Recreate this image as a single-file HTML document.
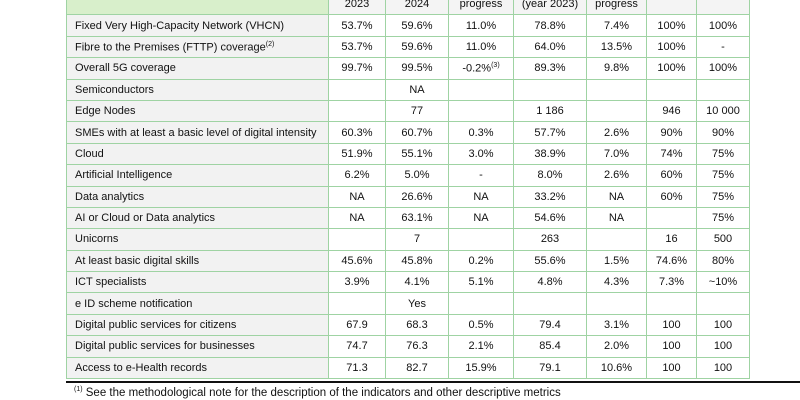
<!DOCTYPE html>
<html><head><meta charset="utf-8"><style>
body{margin:0;width:800px;height:400px;background:#fff;overflow:hidden;position:relative;font-family:"Liberation Sans",sans-serif;}
table{position:absolute;left:66px;top:-7px;border-collapse:collapse;table-layout:fixed;font-size:11px;color:#111;}
td{border:1px solid #9fd3a3;height:20.4px;padding:0;text-align:center;vertical-align:middle;white-space:nowrap;background:#fff;overflow:hidden;}
td.l{text-align:left;padding-left:8px;background:#f2f2f2;}
tr.h td{background:#f4f4f4;}
tr.h td.l{background:#d8efcb;}
sup{font-size:7px;}
#rule{position:absolute;left:66px;top:381px;width:734px;height:2px;background:#111;}
#note{position:absolute;left:74px;top:386px;font-size:11.5px;color:#111;}
</style></head><body>
<table>
<colgroup><col style="width:262px"><col style="width:57px"><col style="width:63px"><col style="width:65px"><col style="width:73px"><col style="width:60px"><col style="width:50px"><col style="width:53px"></colgroup>
<tr class="h"><td class="l"></td><td>2023</td><td>2024</td><td>progress</td><td>(year 2023)</td><td>progress</td><td></td><td></td></tr>
<tr><td class="l">Fixed Very High-Capacity Network (VHCN)</td><td>53.7%</td><td>59.6%</td><td>11.0%</td><td>78.8%</td><td>7.4%</td><td>100%</td><td>100%</td></tr>
<tr><td class="l">Fibre to the Premises (FTTP) coverage<sup>(2)</sup></td><td>53.7%</td><td>59.6%</td><td>11.0%</td><td>64.0%</td><td>13.5%</td><td>100%</td><td>-</td></tr>
<tr><td class="l">Overall 5G coverage</td><td>99.7%</td><td>99.5%</td><td>-0.2%<sup>(3)</sup></td><td>89.3%</td><td>9.8%</td><td>100%</td><td>100%</td></tr>
<tr><td class="l">Semiconductors</td><td></td><td>NA</td><td></td><td></td><td></td><td></td><td></td></tr>
<tr><td class="l">Edge Nodes</td><td></td><td>77</td><td></td><td>1 186</td><td></td><td>946</td><td>10 000</td></tr>
<tr><td class="l">SMEs with at least a basic level of digital intensity</td><td>60.3%</td><td>60.7%</td><td>0.3%</td><td>57.7%</td><td>2.6%</td><td>90%</td><td>90%</td></tr>
<tr><td class="l">Cloud</td><td>51.9%</td><td>55.1%</td><td>3.0%</td><td>38.9%</td><td>7.0%</td><td>74%</td><td>75%</td></tr>
<tr><td class="l">Artificial Intelligence</td><td>6.2%</td><td>5.0%</td><td>-</td><td>8.0%</td><td>2.6%</td><td>60%</td><td>75%</td></tr>
<tr><td class="l">Data analytics</td><td>NA</td><td>26.6%</td><td>NA</td><td>33.2%</td><td>NA</td><td>60%</td><td>75%</td></tr>
<tr><td class="l">AI or Cloud or Data analytics</td><td>NA</td><td>63.1%</td><td>NA</td><td>54.6%</td><td>NA</td><td></td><td>75%</td></tr>
<tr><td class="l">Unicorns</td><td></td><td>7</td><td></td><td>263</td><td></td><td>16</td><td>500</td></tr>
<tr><td class="l">At least basic digital skills</td><td>45.6%</td><td>45.8%</td><td>0.2%</td><td>55.6%</td><td>1.5%</td><td>74.6%</td><td>80%</td></tr>
<tr><td class="l">ICT specialists</td><td>3.9%</td><td>4.1%</td><td>5.1%</td><td>4.8%</td><td>4.3%</td><td>7.3%</td><td>~10%</td></tr>
<tr><td class="l">e ID scheme notification</td><td></td><td>Yes</td><td></td><td></td><td></td><td></td><td></td></tr>
<tr><td class="l">Digital public services for citizens</td><td>67.9</td><td>68.3</td><td>0.5%</td><td>79.4</td><td>3.1%</td><td>100</td><td>100</td></tr>
<tr><td class="l">Digital public services for businesses</td><td>74.7</td><td>76.3</td><td>2.1%</td><td>85.4</td><td>2.0%</td><td>100</td><td>100</td></tr>
<tr><td class="l">Access to e-Health records</td><td>71.3</td><td>82.7</td><td>15.9%</td><td>79.1</td><td>10.6%</td><td>100</td><td>100</td></tr>
</table>
<div id="rule"></div>
<div id="note"><sup>(1)</sup> See the methodological note for the description of the indicators and other descriptive metrics</div>
</body></html>
